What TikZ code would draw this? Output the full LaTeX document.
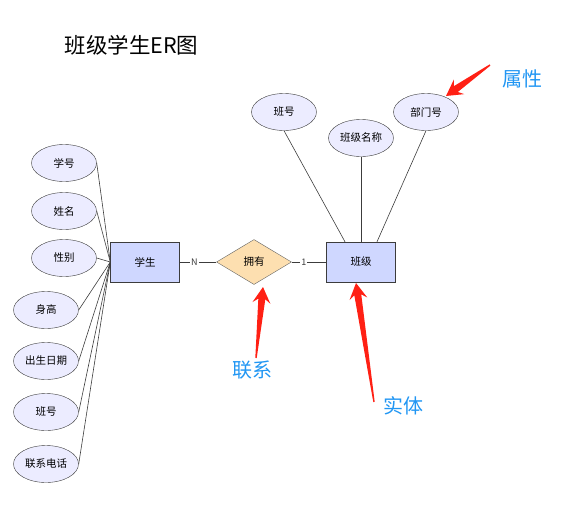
\documentclass[tikz,border=0pt]{standalone}
\usepackage{fontspec}
\setmainfont{Noto Sans CJK SC}
\usetikzlibrary{shapes.geometric,calc}
\definecolor{attrfill}{RGB}{236,236,255}
\definecolor{entfill}{RGB}{207,215,255}
\definecolor{relfill}{RGB}{253,223,176}
\definecolor{edgegray}{RGB}{60,60,60}
\definecolor{notered}{RGB}{255,32,20}
\definecolor{noteblue}{RGB}{33,150,243}
% tapered red pointer, from tail to tip
\newcommand{\pointer}[2]{%
  \fill[notered] ($(#1)!0.7pt!90:(#2)$) -- ($(#2)!12pt!(#1)!3.5pt!-90:(#1)$) -- ($(#2)!16pt!(#1)!9pt!-90:(#1)$) -- (#2)
    -- ($(#2)!16pt!(#1)!9pt!90:(#1)$) -- ($(#2)!12pt!(#1)!3.5pt!90:(#1)$) -- ($(#1)!0.7pt!-90:(#2)$) -- cycle;}
\begin{document}
\begin{tikzpicture}[x=1pt, y=-1pt, every node/.style={font=\fontsize{10.5}{12}\selectfont},
    attr/.style={ellipse, draw=edgegray, fill=attrfill, minimum width=65pt, minimum height=37pt, inner sep=0pt},
    entity/.style={draw=edgegray, fill=entfill, minimum width=69pt, minimum height=40pt, inner sep=0pt},
    rel/.style={diamond, draw=edgegray!80, fill=relfill, minimum width=75pt, minimum height=45pt, inner sep=0pt, shape aspect=1.7},
    card/.style={fill=white, inner sep=1pt, text=edgegray, font=\fontsize{9}{10}\selectfont},
    note/.style={text=noteblue, font=\fontsize{20}{24}\selectfont},
    link/.style={draw=edgegray, line width=0.6pt}]
        \useasboundingbox (0,0) rectangle (588,522);
        \node[anchor=west, font=\fontsize{21.5}{24}\selectfont] (title) at (61,45) {班级学生ER图};

        % entities and relation
        \node[entity] (stu) at (145,262) {学生};
        \node[rel] (own) at (254,262) {拥有};
        \node[entity] (cls) at (361,262) {班级};

        % student attributes
        \node[attr] (sno) at (64,163) {学号};
        \node[attr] (sname) at (64,211) {姓名};
        \node[attr] (ssex) at (64,258) {性别};
        \node[attr] (sheight) at (46,310) {身高};
        \node[attr] (sbirth) at (46,361) {出生日期};
        \node[attr] (scls) at (46,412) {班号};
        \node[attr] (stel) at (46,464) {联系电话};

        % class attributes
        \node[attr] (cno) at (284,112) {班号};
        \node[attr] (cname) at (361,138) {班级名称};
        \node[attr] (cdept) at (426,112) {部门号};

        \foreach \a in {sno,sname,ssex,sheight,sbirth,scls,stel}
            \draw[link] (\a.east) -- (stu.west);
        \draw[link] (cno.south) -- ([xshift=-16pt]cls.north);
        \draw[link] (cname.south) -- (cls.north);
        \draw[link] (cdept.south) -- ([xshift=16pt]cls.north);

        \draw[link] (stu) -- node[card, pos=0.4]{N} (own);
        \draw[link] (own) -- node[card, pos=0.35]{1} (cls);

        % notes
        \coordinate (attrtail) at (490,65);
        \coordinate (attrtip) at (446,96);
        \coordinate (reltail) at (256,358);
        \coordinate (reltip) at (263,287);
        \coordinate (enttail) at (374,402);
        \coordinate (enttip) at (356,283);
        \pointer{attrtail}{attrtip}
        \pointer{reltail}{reltip}
        \pointer{enttail}{enttip}
        \node[note] (attrnote) at (522,79) {属性};
        \node[note] (relnote) at (252,370) {联系};
        \node[note] (entnote) at (403,406) {实体};
    \end{tikzpicture}
\end{document}
